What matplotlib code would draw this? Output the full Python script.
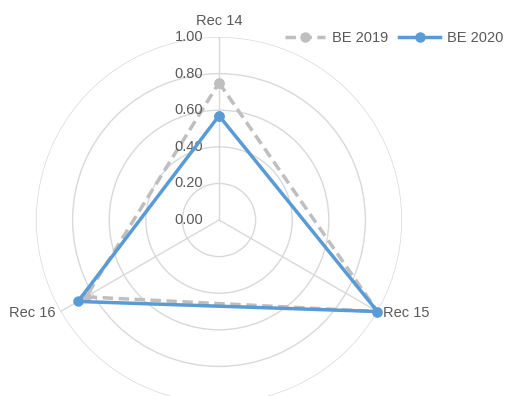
import numpy as np
import matplotlib
matplotlib.use("Agg")
import matplotlib.pyplot as plt
from matplotlib.transforms import offset_copy

categories = ["Rec 14", "Rec 15", "Rec 16"]
be2019 = [0.75, 1.00, 0.84]
be2020 = [0.57, 1.00, 0.89]
rticks = [0.0, 0.2, 0.4, 0.6, 0.8, 1.0]
rtick_labels = ["0.00", "0.20", "0.40", "0.60", "0.80", "1.00"]

plt.rcParams['font.family'] = ['Liberation Sans', 'DejaVu Sans']
text_c = "#595959"
grid_c = "#d9d9d9"
FS = 10.5

fig = plt.figure(figsize=(5.05, 3.96), dpi=100)
ax = fig.add_axes([0.0713, -0.0177, 0.7248, 0.9242], projection="polar")
ax.set_theta_zero_location("N")
ax.set_theta_direction(-1)
ax.set_ylim(0, 1.0)

n = len(categories)
angles = np.arange(n) * 2 * np.pi / n
ang_c = np.concatenate([angles, angles[:1]])

ax.spines['polar'].set_visible(False)
ax.set_yticks(rticks[1:])
ax.set_yticklabels([])
ax.set_xticks(angles)
ax.set_xticklabels([])
ax.grid(True, color=grid_c, linewidth=1)
ax.tick_params(length=0)

v19 = np.concatenate([be2019, be2019[:1]])
v20 = np.concatenate([be2020, be2020[:1]])
ax.plot(ang_c, v19, color="#bfbfbf", linewidth=2.5, linestyle=(0, (3, 1.6)),
        marker="o", markersize=6.5, label="BE 2019", clip_on=False, zorder=3)
ax.plot(ang_c, v20, color="#5b9bd5", linewidth=2.5,
        marker="o", markersize=6.5, label="BE 2020", clip_on=False, zorder=4)

for r, lab in zip(rticks, rtick_labels):
    tr = offset_copy(ax.transData, fig=fig, x=-16, y=0, units="dots")
    ax.text(0, r, lab, transform=tr, ha="right", va="center",
            fontsize=FS, color=text_c)

# category labels
tr = offset_copy(ax.transData, fig=fig, x=0, y=9, units="dots")
ax.text(angles[0], 1.0, categories[0], transform=tr, ha="center", va="bottom",
        fontsize=FS, color=text_c)
tr = offset_copy(ax.transData, fig=fig, x=6, y=-1, units="dots")
ax.text(angles[1], 1.0, categories[1], transform=tr, ha="left", va="center",
        fontsize=FS, color=text_c)
tr = offset_copy(ax.transData, fig=fig, x=-5, y=-1, units="dots")
ax.text(angles[2], 1.0, categories[2], transform=tr, ha="right", va="center",
        fontsize=FS, color=text_c)

leg = fig.legend(loc="upper right", bbox_to_anchor=(1.022, 0.955), ncol=2,
                 frameon=False, fontsize=FS, handlelength=2.8,
                 handletextpad=0.45, columnspacing=0.75, labelcolor=text_c)

fig.savefig("out.png", dpi=100)
